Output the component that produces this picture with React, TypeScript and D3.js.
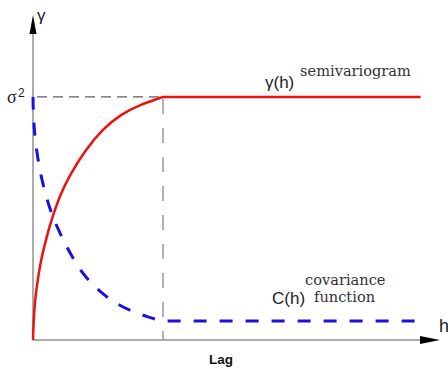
import React from "react";
import * as d3 from "d3";

// Lag values (h) and semivariogram / covariance values
const semivarLag = [0, 0.05, 0.15, 0.41, 0.67, 1.15, 1.46, 2.1, 2.85, 4.0, 5.4, 6.8, 8.2, 10];
const semivarGamma = [0, 0.08, 0.165, 0.265, 0.345, 0.444, 0.5, 0.6, 0.68, 0.78, 0.87, 0.93, 0.967, 1.0];
const covLag = [0, 0.02, 0.15, 0.54, 1.08, 1.54, 2.31, 2.85, 3.85, 5.15, 6.69, 9.0, 10];
const covValue = [1.0, 0.93, 0.823, 0.687, 0.576, 0.502, 0.412, 0.358, 0.267, 0.198, 0.136, 0.091, 0.078];
const sill = 1.0;
const rangeLag = 10;
const redEndLag = 29.8;
const blueEndLag = 29.4;
const xMax = 31.3;
const yMax = 1.337;

const W = 448;
const H = 369;

export default function App() {
  const x = d3.scaleLinear().domain([0, xMax]).range([33, 440]);
  const y = d3.scaleLinear().domain([0, yMax]).range([340, 15]);

  const redPts: [number, number][] = semivarLag.map((h, i) => [h, semivarGamma[i]]);
  const bluePts: [number, number][] = covLag.map((h, i) => [h, covValue[i]]);
  const blueTail: [number, number][] = [
    [covLag[covLag.length - 1], covValue[covValue.length - 1]],
    [blueEndLag, covValue[covValue.length - 1]],
  ];

  const curve = d3
    .line<[number, number]>()
    .x((d) => x(d[0]))
    .y((d) => y(d[1]))
    .curve(d3.curveBasis);
  const straight = d3
    .line<[number, number]>()
    .x((d) => x(d[0]))
    .y((d) => y(d[1]));

  const blueD = (curve(bluePts) || "") + (straight(blueTail) || "").replace(/^M[^L]*/, "");
  const redD = (curve(redPts) || "") + "L" + x(redEndLag) + "," + y(sill);

  const sans = "Liberation Sans, Arial, sans-serif";
  const serif = "DejaVu Serif, serif";

  return (
    <div style={{ position: "fixed", left: 0, top: 0 }}>
      <svg width={W} height={H} style={{ display: "block", background: "#fff" }}>
        {/* sill dashed line */}
        <line x1={x(0) + 4} x2={x(rangeLag)} y1={y(sill)} y2={y(sill)} stroke="#333" strokeWidth={1} strokeDasharray="10,6" />
        {/* range dashed line */}
        <line x1={x(rangeLag)} x2={x(rangeLag)} y1={y(sill) + 2} y2={y(0)} stroke="#b0b0b0" strokeWidth={2} strokeDasharray="15,14" />
        {/* axes */}
        <line x1={x(0)} x2={x(0)} y1={y(0)} y2={32} stroke="#909090" strokeWidth={1.5} />
        <line x1={x(0)} x2={422} y1={y(0)} y2={y(0)} stroke="#909090" strokeWidth={1.5} />
        <path d={`M${x(0)},15 L${x(0) - 3.5},34 L${x(0) + 3.5},34 Z`} fill="#000" />
        <path d={`M440,${y(0)} L420,${y(0) - 4} L420,${y(0) + 4} Z`} fill="#000" />
        {/* covariance function */}
        <path d={blueD} fill="none" stroke="#1a10e0" strokeWidth={3} strokeDasharray="13,13" />
        {/* semivariogram */}
        <path d={redD} fill="none" stroke="#f01010" strokeWidth={2.5} />
        {/* labels */}
        <text x={37} y={21} fontFamily={sans} fontSize={17} fill="#222">γ</text>
        <text x={7} y={103} fontFamily="Liberation Serif, serif" fontSize={18} fill="#222">σ</text>
        <text x={18} y={97} fontFamily={sans} fontSize={12} fill="#222">2</text>
        <text x={265} y={88} fontFamily={sans} fontSize={17} fill="#222">γ(h)</text>
        <text x={300} y={76} fontFamily={serif} fontSize={14.6} fill="#333">semivariogram</text>
        <text x={272} y={304} fontFamily={sans} fontSize={17} fill="#222">C(h)</text>
        <text x={305} y={285} fontFamily={serif} fontSize={14.6} fill="#333">covariance</text>
        <text x={314} y={302} fontFamily={serif} fontSize={14.6} fill="#333">function</text>
        <text x={439} y={332} fontFamily={sans} fontSize={18} fill="#222">h</text>
        <text x={221} y={364} textAnchor="middle" fontFamily={sans} fontSize={13.5} fontWeight="bold" fill="#111">Lag</text>
      </svg>
    </div>
  );
}
